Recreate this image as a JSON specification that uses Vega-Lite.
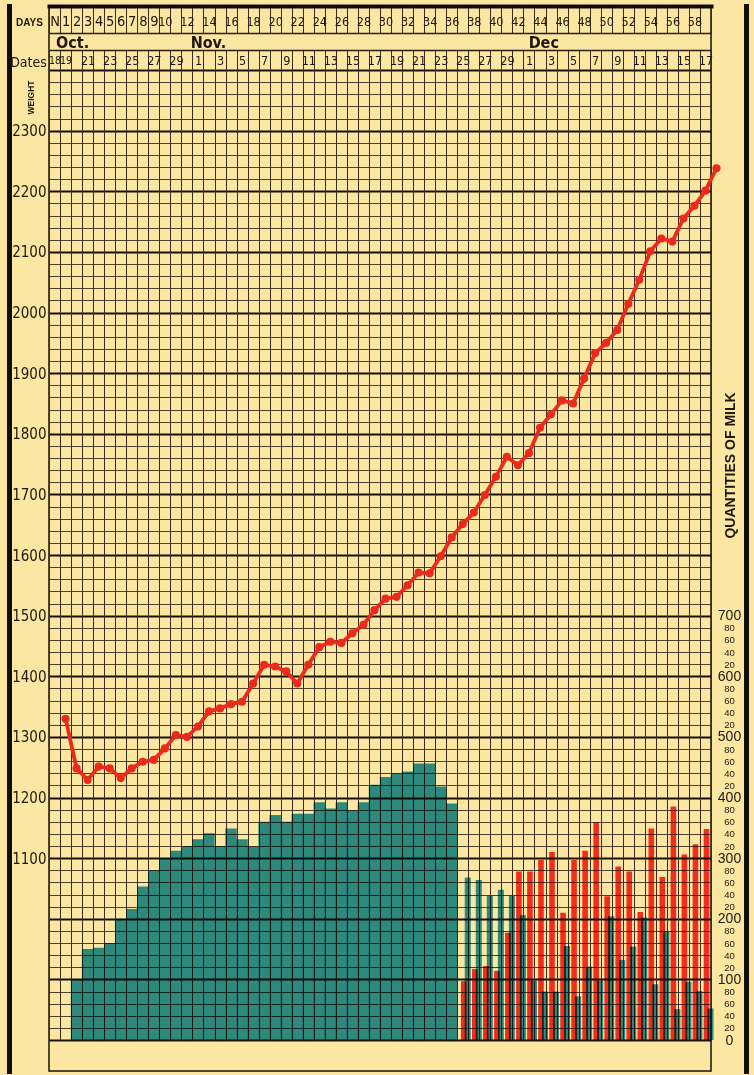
{
  "$schema": "https://vega.github.io/schema/vega-lite/v6.json",
  "width": 662,
  "height": 1065,
  "autosize": {"type": "none"},
  "padding": {"left": 49, "top": 6, "right": 43, "bottom": 4},
  "background": "#fbe7a1",
  "config": {
    "view": {"stroke": "#1a120a", "strokeWidth": 1.5},
    "axis": {"labelOverlap": false, "labelFlush": false, "labelBound": false}
  },
  "datasets": {
    "weight": [
      {"day": 1, "weight": 1330}, {"day": 2, "weight": 1248}, {"day": 3, "weight": 1229}, {"day": 4, "weight": 1251},
      {"day": 5, "weight": 1248}, {"day": 6, "weight": 1232}, {"day": 7, "weight": 1248}, {"day": 8, "weight": 1259},
      {"day": 9, "weight": 1262}, {"day": 10, "weight": 1281}, {"day": 11, "weight": 1303}, {"day": 12, "weight": 1300},
      {"day": 13, "weight": 1317}, {"day": 14, "weight": 1342}, {"day": 15, "weight": 1347}, {"day": 16, "weight": 1354},
      {"day": 17, "weight": 1358}, {"day": 18, "weight": 1388}, {"day": 19, "weight": 1419}, {"day": 20, "weight": 1416},
      {"day": 21, "weight": 1408}, {"day": 22, "weight": 1388}, {"day": 23, "weight": 1419}, {"day": 24, "weight": 1448},
      {"day": 25, "weight": 1457}, {"day": 26, "weight": 1455}, {"day": 27, "weight": 1471}, {"day": 28, "weight": 1485},
      {"day": 29, "weight": 1509}, {"day": 30, "weight": 1528}, {"day": 31, "weight": 1531}, {"day": 32, "weight": 1550},
      {"day": 33, "weight": 1571}, {"day": 34, "weight": 1570}, {"day": 35, "weight": 1598}, {"day": 36, "weight": 1629},
      {"day": 37, "weight": 1651}, {"day": 38, "weight": 1670}, {"day": 39, "weight": 1699}, {"day": 40, "weight": 1729},
      {"day": 41, "weight": 1762}, {"day": 42, "weight": 1748}, {"day": 43, "weight": 1768}, {"day": 44, "weight": 1810},
      {"day": 45, "weight": 1832}, {"day": 46, "weight": 1855}, {"day": 47, "weight": 1850}, {"day": 48, "weight": 1891},
      {"day": 49, "weight": 1933}, {"day": 50, "weight": 1950}, {"day": 51, "weight": 1971}, {"day": 52, "weight": 2014},
      {"day": 53, "weight": 2054}, {"day": 54, "weight": 2101}, {"day": 55, "weight": 2122}, {"day": 56, "weight": 2117},
      {"day": 57, "weight": 2155}, {"day": 58, "weight": 2176}, {"day": 59, "weight": 2201}, {"day": 60, "weight": 2238}
    ],
    "milk": [
      {"day": 2, "teal_qty": 100}, {"day": 3, "teal_qty": 150}, {"day": 4, "teal_qty": 152}, {"day": 5, "teal_qty": 160},
      {"day": 6, "teal_qty": 200}, {"day": 7, "teal_qty": 216}, {"day": 8, "teal_qty": 253}, {"day": 9, "teal_qty": 280},
      {"day": 10, "teal_qty": 300}, {"day": 11, "teal_qty": 312}, {"day": 12, "teal_qty": 320}, {"day": 13, "teal_qty": 331},
      {"day": 14, "teal_qty": 341}, {"day": 15, "teal_qty": 320}, {"day": 16, "teal_qty": 349}, {"day": 17, "teal_qty": 331},
      {"day": 18, "teal_qty": 319}, {"day": 19, "teal_qty": 360}, {"day": 20, "teal_qty": 371}, {"day": 21, "teal_qty": 360},
      {"day": 22, "teal_qty": 373}, {"day": 23, "teal_qty": 373}, {"day": 24, "teal_qty": 392}, {"day": 25, "teal_qty": 382},
      {"day": 26, "teal_qty": 392}, {"day": 27, "teal_qty": 379}, {"day": 28, "teal_qty": 392}, {"day": 29, "teal_qty": 421},
      {"day": 30, "teal_qty": 434}, {"day": 31, "teal_qty": 440}, {"day": 32, "teal_qty": 443}, {"day": 33, "teal_qty": 456},
      {"day": 34, "teal_qty": 456}, {"day": 35, "teal_qty": 418}, {"day": 36, "teal_qty": 390},
      {"day": 37, "teal_qty": 268, "red_qty": 97}, {"day": 38, "teal_qty": 264, "red_qty": 117},
      {"day": 39, "teal_qty": 238, "red_qty": 122}, {"day": 40, "teal_qty": 248, "red_qty": 114},
      {"day": 41, "teal_qty": 238, "red_qty": 177}, {"day": 42, "teal_qty": 206, "red_qty": 278},
      {"day": 43, "teal_qty": 98, "red_qty": 278}, {"day": 44, "teal_qty": 80, "red_qty": 297},
      {"day": 45, "teal_qty": 80, "red_qty": 310}, {"day": 46, "teal_qty": 155, "red_qty": 210},
      {"day": 47, "teal_qty": 72, "red_qty": 297}, {"day": 48, "teal_qty": 121, "red_qty": 312},
      {"day": 49, "teal_qty": 98, "red_qty": 359}, {"day": 50, "teal_qty": 204, "red_qty": 237},
      {"day": 51, "teal_qty": 132, "red_qty": 286}, {"day": 52, "teal_qty": 154, "red_qty": 278},
      {"day": 53, "teal_qty": 202, "red_qty": 211}, {"day": 54, "teal_qty": 92, "red_qty": 349},
      {"day": 55, "teal_qty": 179, "red_qty": 269}, {"day": 56, "teal_qty": 51, "red_qty": 385},
      {"day": 57, "teal_qty": 96, "red_qty": 306}, {"day": 58, "teal_qty": 81, "red_qty": 323},
      {"day": 59, "teal_qty": 52, "red_qty": 348}
    ]
  },
  "resolve": {"scale": {"y": "independent"}, "axis": {"x": "independent", "y": "independent"}},
  "layer": [
    {
      "data": {"name": "milk"},
      "transform": [{"filter": "datum.day <= 36"}],
      "mark": {"type": "bar", "orient": "vertical", "size": 11.4, "color": "#2e97c6", "blend": "multiply"},
      "encoding": {
        "x": {
          "field": "day", "type": "quantitative",
          "scale": {"domain": [-0.5, 59.5], "nice": false, "zero": false, "padding": 0},
          "axis": {
            "orient": "top", "offset": 0,
            "values": [-0.5,0.5,1.5,2.5,3.5,4.5,5.5,6.5,7.5,8.5,9.5,10.5,11.5,12.5,13.5,14.5,15.5,16.5,17.5,18.5,19.5,20.5,21.5,22.5,23.5,24.5,25.5,26.5,27.5,28.5,29.5,30.5,31.5,32.5,33.5,34.5,35.5,36.5,37.5,38.5,39.5,40.5,41.5,42.5,43.5,44.5,45.5,46.5,47.5,48.5,49.5,50.5,51.5,52.5,53.5,54.5,55.5,56.5,57.5,58.5,59.5],
            "domain": true, "domainColor": "#120c06", "domainWidth": 4, "domainCap": "square",
            "ticks": true, "tickSize": -27, "tickColor": "#3d2c1c", "tickWidth": 1,
            "grid": false,
            "labelExpr": "datum.value + 0.5 == 0 ? 'N' : (datum.value + 0.5 <= 10 ? '' + (datum.value + 0.5) : (((datum.value + 0.5) % 2 == 0 && datum.value + 0.5 < 60) ? '' + (datum.value + 0.5) : ''))",
            "labelOffset": 5.52, "labelPadding": 12, "labelBaseline": "middle", "labelAlign": "center", "labelAngle": 0,
            "labelFont": "'DejaVu Sans Condensed', sans-serif",
            "labelFontSize": {"condition": {"test": "datum.value + 0.5 < 10", "value": 14.5}, "value": 12.5},
            "labelColor": "#1f1710",
            "title": "DAYS", "titleX": -20, "titleY": 16, "titleAlign": "center", "titleBaseline": "middle", "titleAngle": 0,
            "titleFont": "Liberation Sans", "titleFontSize": 10, "titleFontWeight": "bold", "titleColor": "#1f1710",
            "zindex": 0
          }
        },
        "y": {
          "field": "teal_qty", "type": "quantitative",
          "scale": {"domain": [-51.13, 1705.57], "nice": false, "zero": false, "padding": 0},
          "axis": {
            "orient": "right", "offset": 35,
            "values": [0,20,40,60,80,100,120,140,160,180,200,220,240,260,280,300,320,340,360,380,400,420,440,460,480,500,520,540,560,580,600,620,640,660,680,700],
            "domain": true, "domainColor": "#120c06", "domainWidth": 5, "domainCap": "square",
            "ticks": false, "tickSize": 0, "grid": false,
            "labelExpr": "datum.value % 100 == 0 ? '' + datum.value : '' + (datum.value % 100)",
            "labelFontSize": {"condition": {"test": "datum.value % 100 == 0", "value": 14}, "value": 9.5},
            "labelAlign": "center", "labelBaseline": "middle", "labelPadding": -17,
            "labelFont": "Liberation Sans", "labelColor": "#1f1710",
            "title": "QUANTITIES OF MILK", "titleAngle": 270, "titleX": -16, "titleY": 459,
            "titleAlign": "center", "titleBaseline": "middle",
            "titleFont": "Liberation Sans", "titleFontSize": 14, "titleFontWeight": "bold", "titleColor": "#1f1710"
          }
        },
        "y2": {"datum": 0}
      }
    },
    {
      "data": {"name": "milk"},
      "transform": [{"filter": "datum.day >= 37"}],
      "mark": {"type": "bar", "orient": "vertical", "size": 5.6, "xOffset": 1, "color": "#f7312a", "blend": "multiply"},
      "encoding": {
        "x": {
          "field": "day", "type": "quantitative",
          "scale": {"domain": [-0.5, 59.5], "nice": false, "zero": false, "padding": 0},
          "axis": {
            "orient": "top", "offset": -27,
            "values": [1.6, 13.9, 44.3],
            "domain": true, "domainColor": "#2a1d10", "domainWidth": 1.3,
            "ticks": false, "tickSize": 0, "grid": false,
            "labelExpr": "datum.value < 5 ? 'Oct.' : (datum.value < 30 ? 'Nov.' : 'Dec')",
            "labelPadding": -9, "labelBaseline": "middle", "labelAlign": "center", "labelAngle": 0,
            "labelFont": "'DejaVu Sans Condensed', sans-serif", "labelFontSize": 16, "labelFontWeight": "bold", "labelColor": "#1f1710",
            "title": null, "zindex": 0
          }
        },
        "y": {
          "field": "red_qty", "type": "quantitative",
          "scale": {"domain": [-51.13, 1705.57], "nice": false, "zero": false, "padding": 0},
          "axis": null
        },
        "y2": {"datum": 0}
      }
    },
    {
      "data": {"name": "milk"},
      "transform": [{"filter": "datum.day >= 37"}],
      "mark": {"type": "bar", "orient": "vertical", "size": 6, "xOffset": 5, "color": "#2e97c6", "blend": "multiply"},
      "encoding": {
        "x": {
          "field": "day", "type": "quantitative",
          "scale": {"domain": [-0.5, 59.5], "nice": false, "zero": false, "padding": 0},
          "axis": {
            "orient": "top", "offset": -44,
            "values": [-0.5,0.5,1.5,2.5,3.5,4.5,5.5,6.5,7.5,8.5,9.5,10.5,11.5,12.5,13.5,14.5,15.5,16.5,17.5,18.5,19.5,20.5,21.5,22.5,23.5,24.5,25.5,26.5,27.5,28.5,29.5,30.5,31.5,32.5,33.5,34.5,35.5,36.5,37.5,38.5,39.5,40.5,41.5,42.5,43.5,44.5,45.5,46.5,47.5,48.5,49.5,50.5,51.5,52.5,53.5,54.5,55.5,56.5,57.5,58.5,59.5],
            "domain": true, "domainColor": "#2a1d10", "domainWidth": 1.3,
            "ticks": true, "tickSize": -990, "tickColor": "#3d2c1c", "tickWidth": 1,
            "grid": false,
            "labelExpr": "datum.value + 0.5 == 0 ? '18' : ((datum.value + 0.5 >= 60 || (datum.value + 0.5) % 2 == 0) ? '' : (datum.value + 0.5 <= 11 ? '' + (datum.value + 18.5) : (datum.value + 0.5 <= 41 ? '' + (datum.value - 11.5) : '' + (datum.value - 41.5))))",
            "labelOffset": 5.52, "labelPadding": 980, "labelBaseline": "middle", "labelAlign": "center", "labelAngle": 0,
            "labelFont": "'DejaVu Sans Condensed', sans-serif",
            "labelFontSize": {"condition": {"test": "datum.value + 0.5 == 0 || datum.value + 0.5 == 1", "value": 10.5}, "value": 12.5},
            "labelColor": "#1f1710",
            "title": "Dates", "titleX": -21, "titleY": 12, "titleAlign": "center", "titleBaseline": "middle", "titleAngle": 0,
            "titleFont": "'DejaVu Sans Condensed', sans-serif", "titleFontSize": 14, "titleFontWeight": "normal", "titleColor": "#1f1710",
            "zindex": 0
          }
        },
        "y": {
          "field": "teal_qty", "type": "quantitative",
          "scale": {"domain": [-51.13, 1705.57], "nice": false, "zero": false, "padding": 0},
          "axis": null
        },
        "y2": {"datum": 0}
      }
    },
    {
      "data": {"name": "weight"},
      "mark": {"type": "line", "color": "#ec2a1b", "strokeWidth": 3.8},
      "encoding": {
        "x": {"field": "day", "type": "quantitative", "scale": {"domain": [-0.5, 59.5], "nice": false, "zero": false, "padding": 0}, "axis": null},
        "y": {
          "field": "weight", "type": "quantitative",
          "scale": {"domain": [748.87, 2505.57], "nice": false, "zero": false, "padding": 0},
          "axis": {
            "orient": "left", "offset": 40,
            "values": [800,820,840,860,880,900,920,940,960,980,1000,1020,1040,1060,1080,1100,1120,1140,1160,1180,1200,1220,1240,1260,1280,1300,1320,1340,1360,1380,1400,1420,1440,1460,1480,1500,1520,1540,1560,1580,1600,1620,1640,1660,1680,1700,1720,1740,1760,1780,1800,1820,1840,1860,1880,1900,1920,1940,1960,1980,2000,2020,2040,2060,2080,2100,2120,2140,2160,2180,2200,2220,2240,2260,2280,2300,2320,2340,2360,2380,2400],
            "domain": true, "domainColor": "#120c06", "domainWidth": 5, "domainCap": "square",
            "ticks": false, "tickSize": 0,
            "grid": true,
            "gridColor": {"condition": {"test": "datum.value % 100 == 0", "value": "#17100a"}, "value": "#3d2c1c"},
            "gridWidth": {"condition": {"test": "datum.value % 100 == 0", "value": 1.8}, "value": 0.9},
            "labelExpr": "(datum.value % 100 == 0 && datum.value >= 1100 && datum.value <= 2300) ? '' + datum.value : ''",
            "labelAlign": "right", "labelBaseline": "middle", "labelPadding": -37,
            "labelFont": "'DejaVu Sans Condensed', sans-serif", "labelFontSize": 15, "labelColor": "#1f1710",
            "title": "WEIGHT", "titleAngle": 270, "titleX": 21, "titleY": 91, "titleAlign": "center", "titleBaseline": "middle",
            "titleFont": "Liberation Sans", "titleFontSize": 8.5, "titleFontWeight": "bold", "titleColor": "#1f1710",
            "zindex": 0
          }
        }
      }
    },
    {
      "data": {"name": "weight"},
      "mark": {"type": "point", "filled": true, "color": "#ec2a1b", "opacity": 1, "size": 66},
      "encoding": {
        "x": {"field": "day", "type": "quantitative", "scale": {"domain": [-0.5, 59.5], "nice": false, "zero": false, "padding": 0}, "axis": null},
        "y": {"field": "weight", "type": "quantitative", "scale": {"domain": [748.87, 2505.57], "nice": false, "zero": false, "padding": 0}, "axis": null}
      }
    }
  ]
}
